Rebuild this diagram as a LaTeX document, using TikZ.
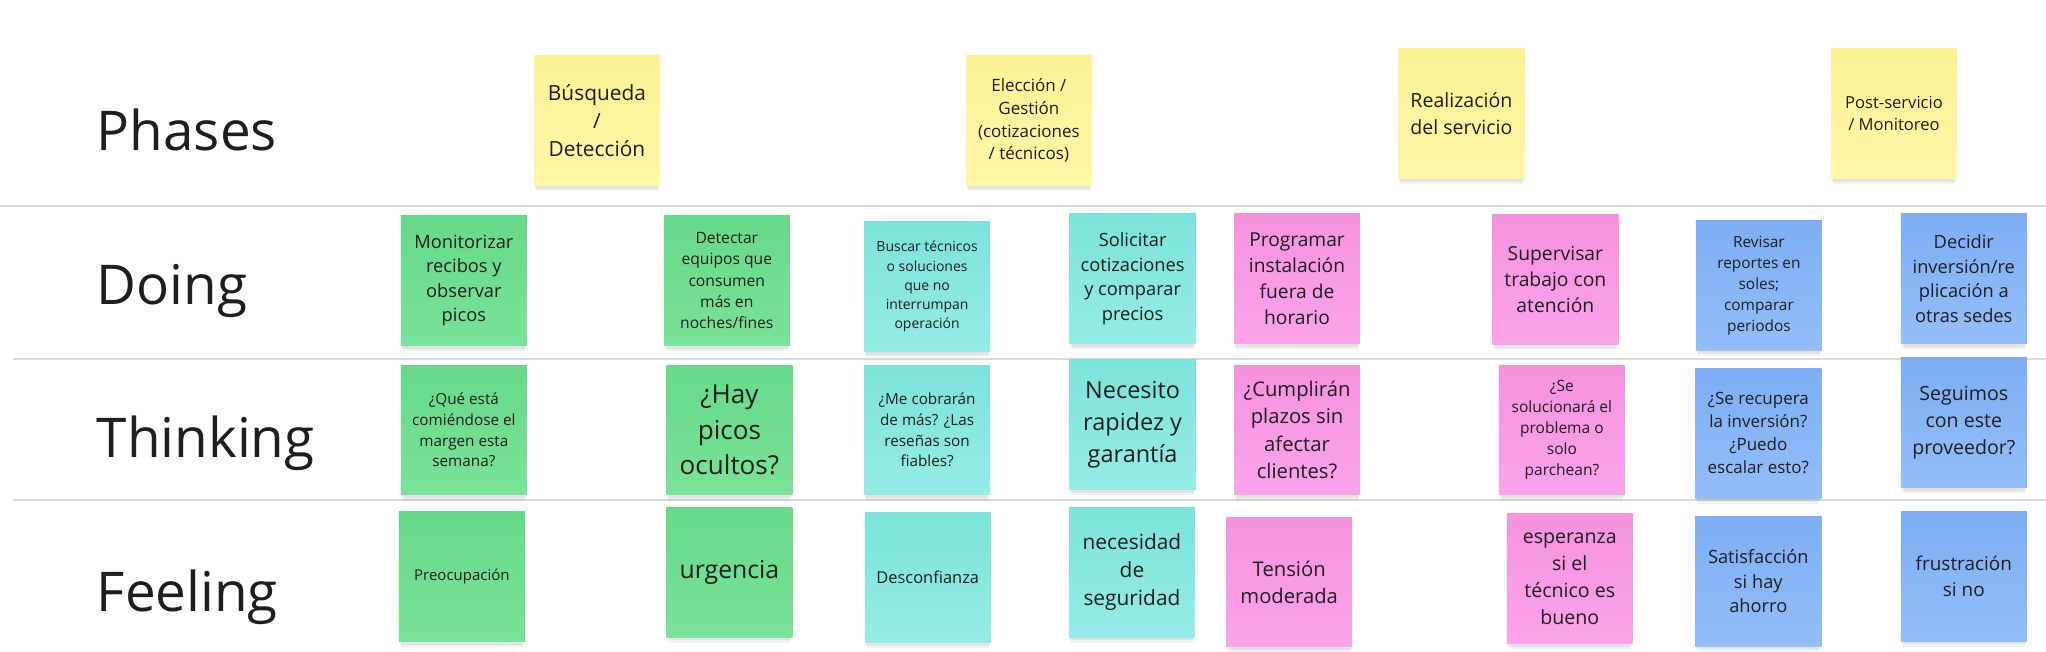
\documentclass[tikz,border=0pt]{standalone}
\usepackage{fontspec}
\setmainfont{Open Sans}
\usetikzlibrary{shadows}
\definecolor{txtc}{HTML}{1E1E1E}
\definecolor{sepc}{HTML}{D9D9D9}
\definecolor{yelT}{HTML}{FCF294}
\definecolor{yelB}{HTML}{FFF6A8}
\definecolor{grnT}{HTML}{67D98A}
\definecolor{grnB}{HTML}{7AE29A}
\definecolor{tealT}{HTML}{7CE3DB}
\definecolor{tealB}{HTML}{95ECE4}
\definecolor{pnkT}{HTML}{F592DE}
\definecolor{pnkB}{HTML}{FBA3EA}
\definecolor{bluT}{HTML}{7DAEF4}
\definecolor{bluB}{HTML}{93BEF8}
\tikzset{
  sticky/.style={rectangle, inner sep=0pt, minimum width=96.5pt, minimum height=99.5pt,
    align=center, text=txtc,
    general shadow={fill=black, opacity=0.05, shadow yshift=-6pt, shadow scale=0.97},
    general shadow={fill=black, opacity=0.06, shadow yshift=-3pt, shadow scale=0.99}},
  yel/.style={sticky, top color=yelT, bottom color=yelB},
  grn/.style={sticky, top color=grnT, bottom color=grnB},
  teal/.style={sticky, top color=tealT, bottom color=tealB},
  pnk/.style={sticky, top color=pnkT, bottom color=pnkB},
  blu/.style={sticky, top color=bluT, bottom color=bluB},
  rowlabel/.style={anchor=base west, inner sep=0pt, text=txtc, font=\fontsize{42pt}{50pt}\selectfont},
  sepline/.style={draw=sepc, line width=1.5pt}
}
\begin{document}
\begin{tikzpicture}[x=1pt, y=-1pt]
\useasboundingbox[fill=white] (0,0) rectangle (1568,499);
% separators
\draw[sepline] (0,157.6) -- (1568,157.6);
\draw[sepline] (10,275.3) -- (1568,275.3);
\draw[sepline] (10,383.2) -- (1568,383.2);
% row labels
\node[rowlabel] (lph) at (74,115) {Phases};
\node[rowlabel] (ldo) at (74,233) {Doing};
\node[rowlabel] (lth) at (74,350.5) {Thinking};
\node[rowlabel] (lfe) at (74,469) {Feeling};
% phases
\node[yel, font=\fontsize{16pt}{21.5pt}\selectfont] (p1) at (457.5,92.5) {Búsqueda\\/\\Detección};
\node[yel, font=\fontsize{13pt}{17.4pt}\selectfont] (p2) at (788.5,92.5) {Elección /\\Gestión\\(cotizaciones\\/ técnicos)};
\node[yel, font=\fontsize{15pt}{20.4pt}\selectfont] (p3) at (1120,87) {Realización\\del servicio};
\node[yel, font=\fontsize{12.7pt}{17.2pt}\selectfont] (p4) at (1451.5,87) {Post-servicio\\/ Monitoreo};
% doing
\node[grn, font=\fontsize{14pt}{18.8pt}\selectfont] (d1) at (355.5,215) {Monitorizar\\recibos y\\observar\\picos};
\node[grn, font=\fontsize{12pt}{16.3pt}\selectfont] (d2) at (557,215) {Detectar\\equipos que\\consumen\\más en\\noches/fines};
\node[teal, font=\fontsize{10.7pt}{14.6pt}\selectfont] (d3) at (710.5,219.5) {Buscar técnicos\\o soluciones\\que no\\interrumpan\\operación};
\node[teal, font=\fontsize{14pt}{18.8pt}\selectfont] (d4) at (868,213.5) {Solicitar\\cotizaciones\\y comparar\\precios};
\node[pnk, font=\fontsize{14.7pt}{19.8pt}\selectfont] (d5) at (994,213.5) {Programar\\instalación\\fuera de\\horario};
\node[pnk, font=\fontsize{14.8pt}{20pt}\selectfont] (d6) at (1192,214.5) {Supervisar\\trabajo con\\atención};
\node[blu, font=\fontsize{11.8pt}{16pt}\selectfont] (d7) at (1348,219) {Revisar\\reportes en\\soles;\\comparar\\periodos};
\node[blu, font=\fontsize{14pt}{18.8pt}\selectfont] (d8) at (1505,213.5) {Decidir\\inversión/re\\plicación a\\otras sedes};
% thinking
\node[grn, font=\fontsize{11.7pt}{15.9pt}\selectfont] (t1) at (355.5,329.5) {¿Qué está\\comiéndose el\\margen esta\\semana?};
\node[grn, font=\fontsize{20pt}{27pt}\selectfont] (t2) at (559,329.5) {¿Hay\\picos\\ocultos?};
\node[teal, font=\fontsize{11.7pt}{15.9pt}\selectfont] (t3) at (710.5,329.5) {¿Me cobrarán\\de más? ¿Las\\reseñas son\\fiables?};
\node[teal, font=\fontsize{18pt}{24.4pt}\selectfont] (t4) at (868,325.5) {Necesito\\rapidez y\\garantía};
\node[pnk, font=\fontsize{15.5pt}{20.8pt}\selectfont] (t5) at (994,329.5) {¿Cumplirán\\plazos sin\\afectar\\clientes?};
\node[pnk, font=\fontsize{11.9pt}{16.2pt}\selectfont] (t6) at (1197,329.5) {¿Se\\solucionará el\\problema o\\solo\\parchean?};
\node[blu, font=\fontsize{13pt}{17.6pt}\selectfont] (t7) at (1347.5,332) {¿Se recupera\\la inversión?\\¿Puedo\\escalar esto?};
\node[blu, font=\fontsize{15pt}{20.4pt}\selectfont] (t8) at (1505,324) {Seguimos\\con este\\proveedor?};
% feeling
\node[grn, font=\fontsize{11.5pt}{15.6pt}\selectfont] (f1) at (354,442) {Preocupación};
\node[grn, font=\fontsize{19pt}{25.8pt}\selectfont] (f2) at (559,438.5) {urgencia};
\node[teal, font=\fontsize{12.6pt}{17pt}\selectfont] (f3) at (711,442.5) {Desconfianza};
\node[teal, font=\fontsize{16pt}{21.6pt}\selectfont] (f4) at (867.5,438.5) {necesidad\\de\\seguridad};
\node[pnk, font=\fontsize{15.5pt}{20.8pt}\selectfont] (f5) at (988,446) {Tensión\\moderada};
\node[pnk, font=\fontsize{15pt}{20.6pt}\selectfont] (f6) at (1203,443.5) {esperanza\\si el\\técnico es\\bueno};
\node[blu, font=\fontsize{14pt}{18.8pt}\selectfont] (f7) at (1347.5,445.5) {Satisfacción\\si hay\\ahorro};
\node[blu, font=\fontsize{14.5pt}{19.6pt}\selectfont] (f8) at (1505,441.5) {frustración\\si no};
\end{tikzpicture}
\end{document}
